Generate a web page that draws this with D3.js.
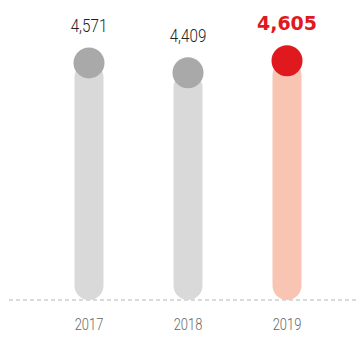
<!DOCTYPE html>
<html>
<head>
<meta charset="utf-8">
<script src="https://cdn.jsdelivr.net/npm/d3@7"></script>
<style>
  body { margin: 0; background: #fff; }
  .val { font-family: Roboto, 'DejaVu Sans', sans-serif; font-weight: 300; font-size: 19px; fill: #222; }
  .val.hi { font-family: 'DejaVu Sans', sans-serif; font-weight: bold; font-size: 19px; fill: #e0191e; }
  .yr { font-family: Roboto, 'DejaVu Sans', sans-serif; font-weight: 300; font-size: 17px; fill: #666; }
</style>
</head>
<body>
<div id="chart"></div>
<script>
var years = ["2017", "2018", "2019"];
var values = [4571, 4409, 4605];
var labels = ["4,571", "4,409", "4,605"];

var width = 356, height = 337;
var baseline = 300;

var svg = d3.select("#chart").append("svg")
  .attr("width", width)
  .attr("height", height);

// years across
var x = d3.scalePoint()
  .domain(years)
  .range([89, 287]);

// value scale does not start at zero
var y = d3.scaleLinear()
  .domain([700, 4700])
  .range([baseline, 55]);

var data = years.map(function(d, i) {
  return {year: d, value: values[i], label: labels[i], last: i == years.length - 1};
});

// dashed baseline
svg.append("line")
  .attr("x1", 9)
  .attr("x2", width)
  .attr("y1", baseline)
  .attr("y2", baseline)
  .style("stroke", "#b5b5b5")
  .style("stroke-width", 1)
  .style("stroke-dasharray", "4,3");

var bw = 29;

// bars with round bottom
svg.selectAll(".bar")
  .data(data)
  .enter().append("rect")
    .attr("class", "bar")
    .attr("x", function(d) { return x(d.year) - bw / 2; })
    .attr("y", function(d) { return y(d.value); })
    .attr("width", bw)
    .attr("height", function(d) { return baseline - y(d.value); })
    .attr("rx", bw / 2)
    .style("fill", function(d) { return d.last ? "#f8c5b2" : "#d9d9d9"; });

svg.selectAll(".dot")
  .data(data)
  .enter().append("circle")
    .attr("class", "dot")
    .attr("cx", function(d) { return x(d.year); })
    .attr("cy", function(d) { return y(d.value); })
    .attr("r", 15.5)
    .style("fill", function(d) { return d.last ? "#e0191e" : "#a9a9a9"; });

// condensed look: squeeze the plain labels sideways
svg.selectAll(".val")
  .data(data)
  .enter().append("text")
    .attr("class", function(d) { return d.last ? "val hi" : "val"; })
    .attr("transform", function(d) {
      var s = d.last ? 1 : 0.8;
      return "translate(" + x(d.year) + "," + (y(d.value) - 31) + ") scale(" + s + ",1)";
    })
    .attr("text-anchor", "middle")
    .text(function(d) { return d.label; });

svg.selectAll(".yr")
  .data(data)
  .enter().append("text")
    .attr("class", "yr")
    .attr("transform", function(d) {
      return "translate(" + x(d.year) + ",330) scale(0.76,1)";
    })
    .attr("text-anchor", "middle")
    .text(function(d) { return d.year; });
</script>
</body>
</html>
